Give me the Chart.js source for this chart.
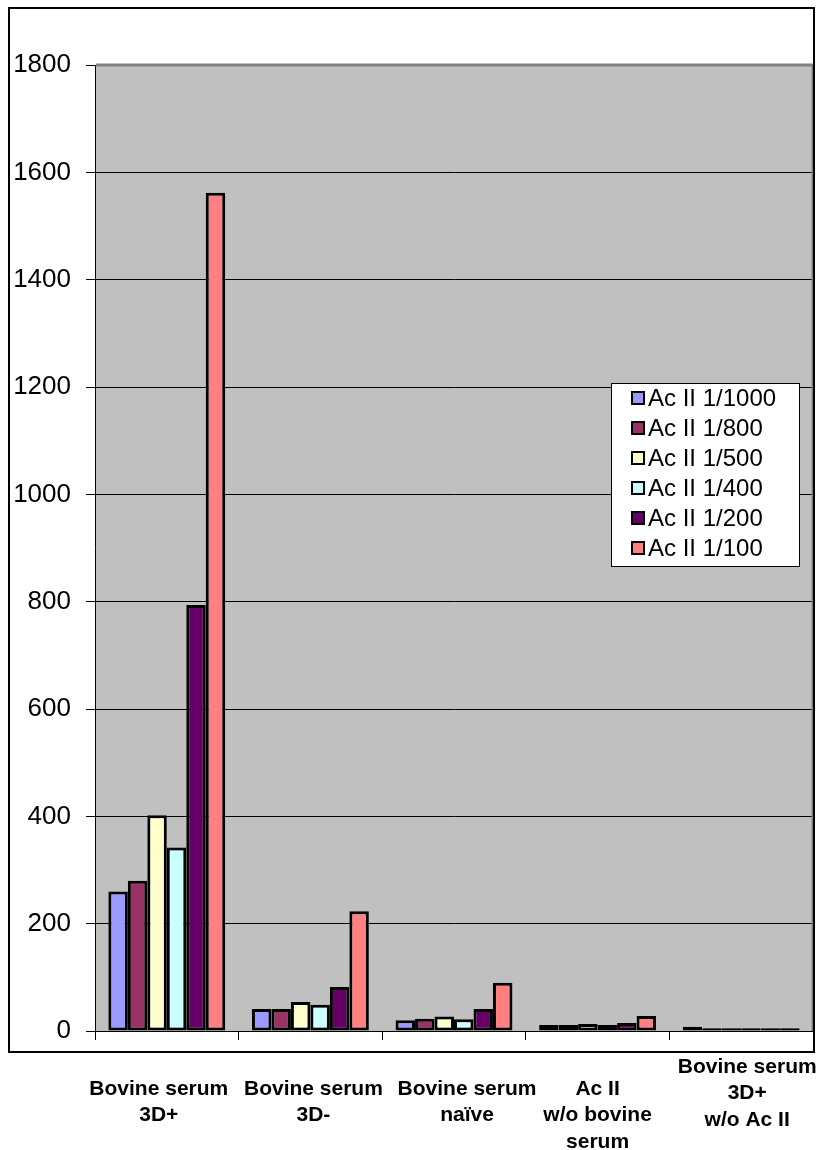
<!DOCTYPE html>
<html>
<head>
<meta charset="utf-8">
<title>Ac II dilutions by serum condition</title>
<script src="https://cdn.jsdelivr.net/npm/chart.js@4.4.1/dist/chart.umd.min.js"></script>
<style>
  html, body { margin: 0; padding: 0; background: #ffffff; }
  #wrap { width: 818px; height: 1150px; }
</style>
</head>
<body>
<div id="wrap"><canvas id="chart" width="818" height="1150"></canvas></div>
<script>
// Categories (multi-line axis labels)
const categories = [
  ["Bovine serum", "3D+"],
  ["Bovine serum", "3D-"],
  ["Bovine serum", "naïve"],
  ["Ac II", "w/o bovine", "serum"],
  ["Bovine serum", "3D+", "w/o Ac II"]
];

// Series names
const seriesNames = ["Ac II 1/1000", "Ac II 1/800", "Ac II 1/500", "Ac II 1/400", "Ac II 1/200", "Ac II 1/100"];

// Series values, one per category
const acII_1000 = [260, 41, 20, 11, 8];
const acII_800  = [280, 41, 23, 11, 5];
const acII_500  = [402, 54, 27, 13, 5];
const acII_400  = [342, 49, 22, 11, 5];
const acII_200  = [794, 82, 41, 15, 5];
const acII_100  = [1562, 223, 90, 28, 5];

// Value axis ticks
const yTicks = [0, 200, 400, 600, 800, 1000, 1200, 1400, 1600, 1800];

const seriesValues = [acII_1000, acII_800, acII_500, acII_400, acII_200, acII_100];
const seriesColors = ["#9999FF", "#993366", "#FFFFCC", "#CCFFFF", "#660066", "#FF8080"];

// Horizontal nudge and vertical lift of the category captions
const captionNudge = [-8, 3, 13, 0, 6];
const captionLift = [0, 0, 0, 0, 22];

const FONT = "'Liberation Sans', Arial, sans-serif";

const plotFrame = {
  id: 'plotFrame',
  beforeDraw(chart) {
    const { ctx, chartArea: a } = chart;
    ctx.save();
    ctx.fillStyle = '#ffffff';
    ctx.fillRect(0, 0, chart.width, chart.height);
    ctx.fillStyle = '#C0C0C0';
    ctx.fillRect(a.left, a.top, a.right - a.left, a.bottom - a.top);
    ctx.restore();
  },
  afterDraw(chart) {
    const { ctx, chartArea: a } = chart;
    ctx.save();
    // plot area edge, top and right
    ctx.strokeStyle = '#808080';
    ctx.lineWidth = 3;
    ctx.beginPath();
    ctx.moveTo(a.left + 1, a.top);
    ctx.lineTo(a.right, a.top);
    ctx.lineTo(a.right, a.bottom);
    ctx.stroke();
    // outer chart border
    ctx.strokeStyle = '#000000';
    ctx.lineWidth = 2;
    ctx.strokeRect(9, 8, 805, 1044);
    ctx.restore();
  }
};

const categoryCaptions = {
  id: 'categoryCaptions',
  afterDraw(chart) {
    const { ctx, chartArea: a } = chart;
    const xs = chart.scales.x;
    ctx.save();
    ctx.fillStyle = '#000000';
    ctx.font = "bold 21px " + FONT;
    ctx.textAlign = 'center';
    ctx.textBaseline = 'middle';
    categories.forEach((lines, i) => {
      const cx = xs.getPixelForValue(i) + captionNudge[i];
      const y0 = a.bottom + 58 - captionLift[i];
      lines.forEach((line, j) => ctx.fillText(line, cx, y0 + j * 26.5));
    });
    ctx.restore();
  }
};

const boxLegend = {
  id: 'boxLegend',
  afterDraw(chart) {
    const { ctx } = chart;
    const bx = 611, by = 383, bw = 188, bh = 183;
    ctx.save();
    ctx.fillStyle = '#ffffff';
    ctx.fillRect(bx, by, bw, bh);
    ctx.strokeStyle = '#000000';
    ctx.lineWidth = 1;
    ctx.strokeRect(bx + 0.5, by + 0.5, bw, bh);
    ctx.font = "24px " + FONT;
    ctx.textAlign = 'left';
    ctx.textBaseline = 'middle';
    chart.data.datasets.forEach((ds, i) => {
      const cy = by + 15 + i * 30;
      ctx.fillStyle = ds.backgroundColor;
      ctx.fillRect(632, cy - 6, 12, 12);
      ctx.lineWidth = 2;
      ctx.strokeStyle = '#000000';
      ctx.strokeRect(632, cy - 6, 12, 12);
      ctx.fillStyle = '#000000';
      ctx.fillText(ds.label, 648, cy + 1);
    });
    ctx.restore();
  }
};

new Chart(document.getElementById('chart'), {
  type: 'bar',
  data: {
    labels: categories.map(c => c.join(' ')),
    datasets: seriesNames.map((name, i) => ({
      label: name,
      data: seriesValues[i],
      backgroundColor: seriesColors[i],
      borderColor: '#000000',
      borderWidth: 3,
      borderSkipped: false,
      categoryPercentage: 0.814,
      barPercentage: 1.0
    }))
  },
  options: {
    responsive: false,
    animation: false,
    devicePixelRatio: 1,
    layout: { padding: { left: 0, top: 65, right: 5, bottom: 0 } },
    plugins: {
      legend: { display: false },
      tooltip: { enabled: false },
      title: { display: false }
    },
    scales: {
      x: {
        offset: true,
        grid: {
          offset: true,
          drawOnChartArea: false,
          drawTicks: true,
          tickLength: 9,
          color: '#000000',
          lineWidth: 1
        },
        border: { display: true, color: '#000000', width: 1 },
        ticks: { display: false },
        afterFit(scale) { scale.height = 119; }
      },
      y: {
        min: 0,
        max: 1800,
        afterBuildTicks(scale) { scale.ticks = yTicks.map(v => ({ value: v })); },
        grid: {
          color: '#000000',
          lineWidth: 1,
          drawTicks: true,
          tickLength: 9
        },
        border: { display: true, color: '#000000', width: 1 },
        ticks: {
          padding: 15,
          color: '#000000',
          font: { family: FONT, size: 26 },
          callback: (v) => String(v)
        },
        afterFit(scale) { scale.width = 95; }
      }
    }
  },
  plugins: [plotFrame, categoryCaptions, boxLegend]
});
</script>
</body>
</html>
